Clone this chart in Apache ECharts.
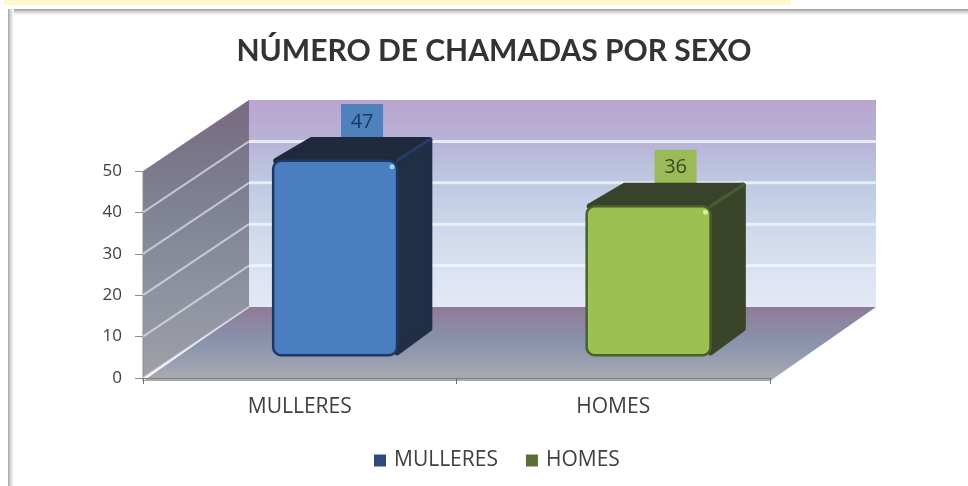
<!DOCTYPE html>
<html>
<head>
<meta charset="utf-8">
<style>
  html, body { margin: 0; padding: 0; background: #fff; }
  #main { width: 968px; height: 486px; }
</style>
<script src="https://cdn.jsdelivr.net/npm/echarts@6/dist/echarts.min.js"></script>
</head>
<body>
<div id="main"></div>
<script>
var categories = ['MULLERES', 'HOMES'];
var mulleresValues = [47];
var homesValues = [36];
var yTicks = [0, 10, 20, 30, 40, 50];

var titleFont = 'Lato';
var font = 'Open Sans';
var textColor = '#404040';
var wallDx = 106, wallDy = -71;

function vGrad(stops) {
  return {
    type: 'linear', x: 0, y: 0, x2: 0, y2: 1,
    colorStops: stops.map(function (s) { return { offset: s[0], color: s[1] }; })
  };
}

function renderWall(params, api) {
  var cs = params.coordSys;
  var l = cs.x, r = cs.x + cs.width, t = cs.y, b = cs.y + cs.height;
  var y = api.coord([0, api.value(0)])[1];
  var kids = [];
  if (params.dataIndex === 0) {
    kids.push({
      type: 'rect', shape: { x: l + wallDx, y: t + wallDy, width: cs.width, height: cs.height },
      style: { fill: vGrad([[0, '#B9A5CE'], [0.2, '#B9B3D8'], [0.42, '#BFCBE3'], [0.7, '#D3DDEE'], [1, '#E5E9F6']]) }
    });
    kids.push({
      type: 'polygon',
      shape: { points: [[l, t], [l + wallDx, t + wallDy], [l + wallDx, b + wallDy], [l, b]] },
      style: { fill: vGrad([[0, '#776A80'], [0.35, '#7E8092'], [0.7, '#8D93A0'], [1, '#A0A0A6']]) }
    });
    kids.push({
      type: 'polygon',
      shape: { points: [[l, b + 3], [l + wallDx, b + wallDy], [r + wallDx, b + wallDy], [r, b + 3]] },
      style: { fill: vGrad([[0, '#8F7B98'], [0.5, '#8A94AE'], [1, '#ABABB2']]) }
    });
    // eixe vertical
    kids.push({
      type: 'line', shape: { x1: l, y1: t, x2: l, y2: b + 3 },
      style: { stroke: '#8c8c8c', lineWidth: 1 }
    });
  }
  if (api.value(0) < 50) {
    kids.push({
      type: 'line', shape: { x1: l, y1: y, x2: l + wallDx, y2: y + wallDy },
      style: { stroke: 'rgba(225,228,238,0.7)', lineWidth: 2 }
    });
  }
  if (api.value(0) > 0 && api.value(0) < 50) {
    kids.push({
      type: 'line', shape: { x1: l + wallDx, y1: y + wallDy, x2: r + wallDx, y2: y + wallDy },
      style: { stroke: 'rgba(240,243,252,0.85)', lineWidth: 3 }
    });
  }
  return { type: 'group', children: kids };
}

function barRenderer(c) {
  return function (params, api) {
    var top = api.coord([api.value(0), api.value(1)]);
    var base = api.coord([api.value(0), 0]);
    var bandW = api.size([1, 0])[0];
    var w = bandW * 0.395;
    var sx = wallDx / 3, sy = wallDy / 3; // posicion da barra no fondo
    var l = top[0] + sx - w / 2, r = l + w;
    var t = top[1] + sy + 1, b = base[1] + sy + 1;
    var i = 3;
    var kids = [
      {
        // etiqueta co valor, detras da tapa
        type: 'rect',
        shape: { x: l + w / 2 + 27 - 21, y: t + wallDy / 3 - 33, width: 42, height: 34 },
        style: { fill: c.label }
      },
      {
        type: 'text',
        style: {
          x: l + w / 2 + 27, y: t + wallDy / 3 - 15, text: String(api.value(1)),
          fill: c.labelText, font: '20px ' + font, align: 'center', verticalAlign: 'middle'
        }
      },
      {
        type: 'polygon',
        shape: { points: [[l + i, t], [l + sx + i, t + sy + i], [r + sx - i, t + sy + i], [r - i, t]] },
        style: { fill: c.top, stroke: c.top, lineWidth: 6, lineJoin: 'round' }
      },
      {
        type: 'polygon',
        shape: { points: [[r, t + i], [r + sx - i, t + sy + i], [r + sx - i, b + sy - i], [r, b - i]] },
        style: { fill: c.side, stroke: c.side, lineWidth: 6, lineJoin: 'round' }
      },
      {
        type: 'line',
        shape: { x1: r, y1: t, x2: r + sx - 2, y2: t + sy + 2 },
        style: { stroke: c.edge, lineWidth: 3, lineCap: 'round' }
      },
      {
        type: 'rect',
        shape: { x: l, y: t, width: w, height: b - t, r: 8 },
        style: {
          fill: {
            type: 'linear', x: 0, y: 0, x2: 1, y2: 0,
            colorStops: [
              { offset: 0, color: c.frontEdge }, { offset: 0.03, color: c.front },
              { offset: 0.97, color: c.front }, { offset: 1, color: c.frontEdge }
            ]
          },
          stroke: c.stroke, lineWidth: 2.5
        }
      },
      {
        type: 'circle', shape: { cx: r - 5, cy: t + 6, r: 2.5 },
        style: { fill: c.spot }
      }
    ];
    return { type: 'group', children: kids };
  };
}

var blueStyle = {
  label: '#4F81BD', labelText: '#17375E', top: '#1F2A3D', side: '#202E46', edge: '#283A66',
  front: '#4A7EC1', frontEdge: '#5C8CCB', stroke: '#1D3864', spot: '#A4D0F2'
};
var greenStyle = {
  label: '#9BBB59', labelText: '#3A4A1C', top: '#39422A', side: '#3A4429', edge: '#4C5B36',
  front: '#9CC153', frontEdge: '#AED062', stroke: '#4C5F2A', spot: '#DDF08E'
};

var chart = echarts.init(document.getElementById('main'), null, { renderer: 'canvas' });
chart.setOption({
  animation: false,
  backgroundColor: '#ffffff',
  title: {
    text: 'NÚMERO DE CHAMADAS POR SEXO',
    left: 489, top: 31, textAlign: 'center',
    textStyle: { fontFamily: titleFont, fontSize: 30, fontWeight: 'bold', color: '#333333' }
  },
  graphic: [
    { type: 'rect', shape: { x: 4, y: 0, width: 787, height: 5 }, style: { fill: '#FFF7CF' } },
    {
      type: 'rect', shape: { x: 8, y: 9, width: 960, height: 6 },
      style: { fill: vGrad([[0, '#9a9a9a'], [0.5, '#d8d8d8'], [1, '#ffffff']]) }
    },
    {
      type: 'rect', shape: { x: 8, y: 9, width: 6, height: 477 },
      style: {
        fill: {
          type: 'linear', x: 0, y: 0, x2: 1, y2: 0,
          colorStops: [{ offset: 0, color: '#a6a6a6' }, { offset: 0.5, color: '#dcdcdc' }, { offset: 1, color: '#ffffff' }]
        }
      }
    }
  ],
  legend: {
    data: categories,
    left: 374, top: 450, padding: 0,
    icon: 'rect', itemWidth: 12, itemHeight: 12, itemGap: 28,
    selectedMode: false,
    textStyle: { fontFamily: font, fontSize: 21, color: textColor, padding: [0, 0, 0, 3] }
  },
  grid: { left: 143, right: 198, top: 171, bottom: 108 },
  xAxis: {
    type: 'category',
    data: categories,
    offset: 3,
    z: 5,
    axisLine: { lineStyle: { color: '#808080', width: 1 } },
    axisTick: { show: true, alignWithLabel: false, length: 6, lineStyle: { color: '#707070', width: 1 } },
    axisLabel: { fontFamily: font, fontSize: 21, color: textColor, margin: 16 }
  },
  yAxis: {
    type: 'value',
    min: yTicks[0], max: yTicks[yTicks.length - 1], interval: 10,
    axisLine: { show: false },
    axisTick: { show: true, length: 8, lineStyle: { color: '#8c8c8c' } },
    splitLine: { show: false },
    axisLabel: { fontFamily: font, fontSize: 17, color: textColor, margin: 21 }
  },
  series: [
    {
      name: 'parede', type: 'custom', coordinateSystem: 'cartesian2d', silent: true, z: 1,
      renderItem: renderWall,
      encode: { x: -1, y: 0 },
      data: yTicks.map(function (v) { return [v]; })
    },
    {
      name: categories[0], type: 'custom', z: 2,
      renderItem: barRenderer(blueStyle),
      itemStyle: { color: '#2F4B7C' },
      encode: { x: 0, y: 1 },
      data: mulleresValues.map(function (v) { return [0, v]; })
    },
    {
      name: categories[1], type: 'custom', z: 2,
      renderItem: barRenderer(greenStyle),
      itemStyle: { color: '#5C6E38' },
      encode: { x: 0, y: 1 },
      data: homesValues.map(function (v) { return [1, v]; })
    }
  ]
});
</script>
</body>
</html>
